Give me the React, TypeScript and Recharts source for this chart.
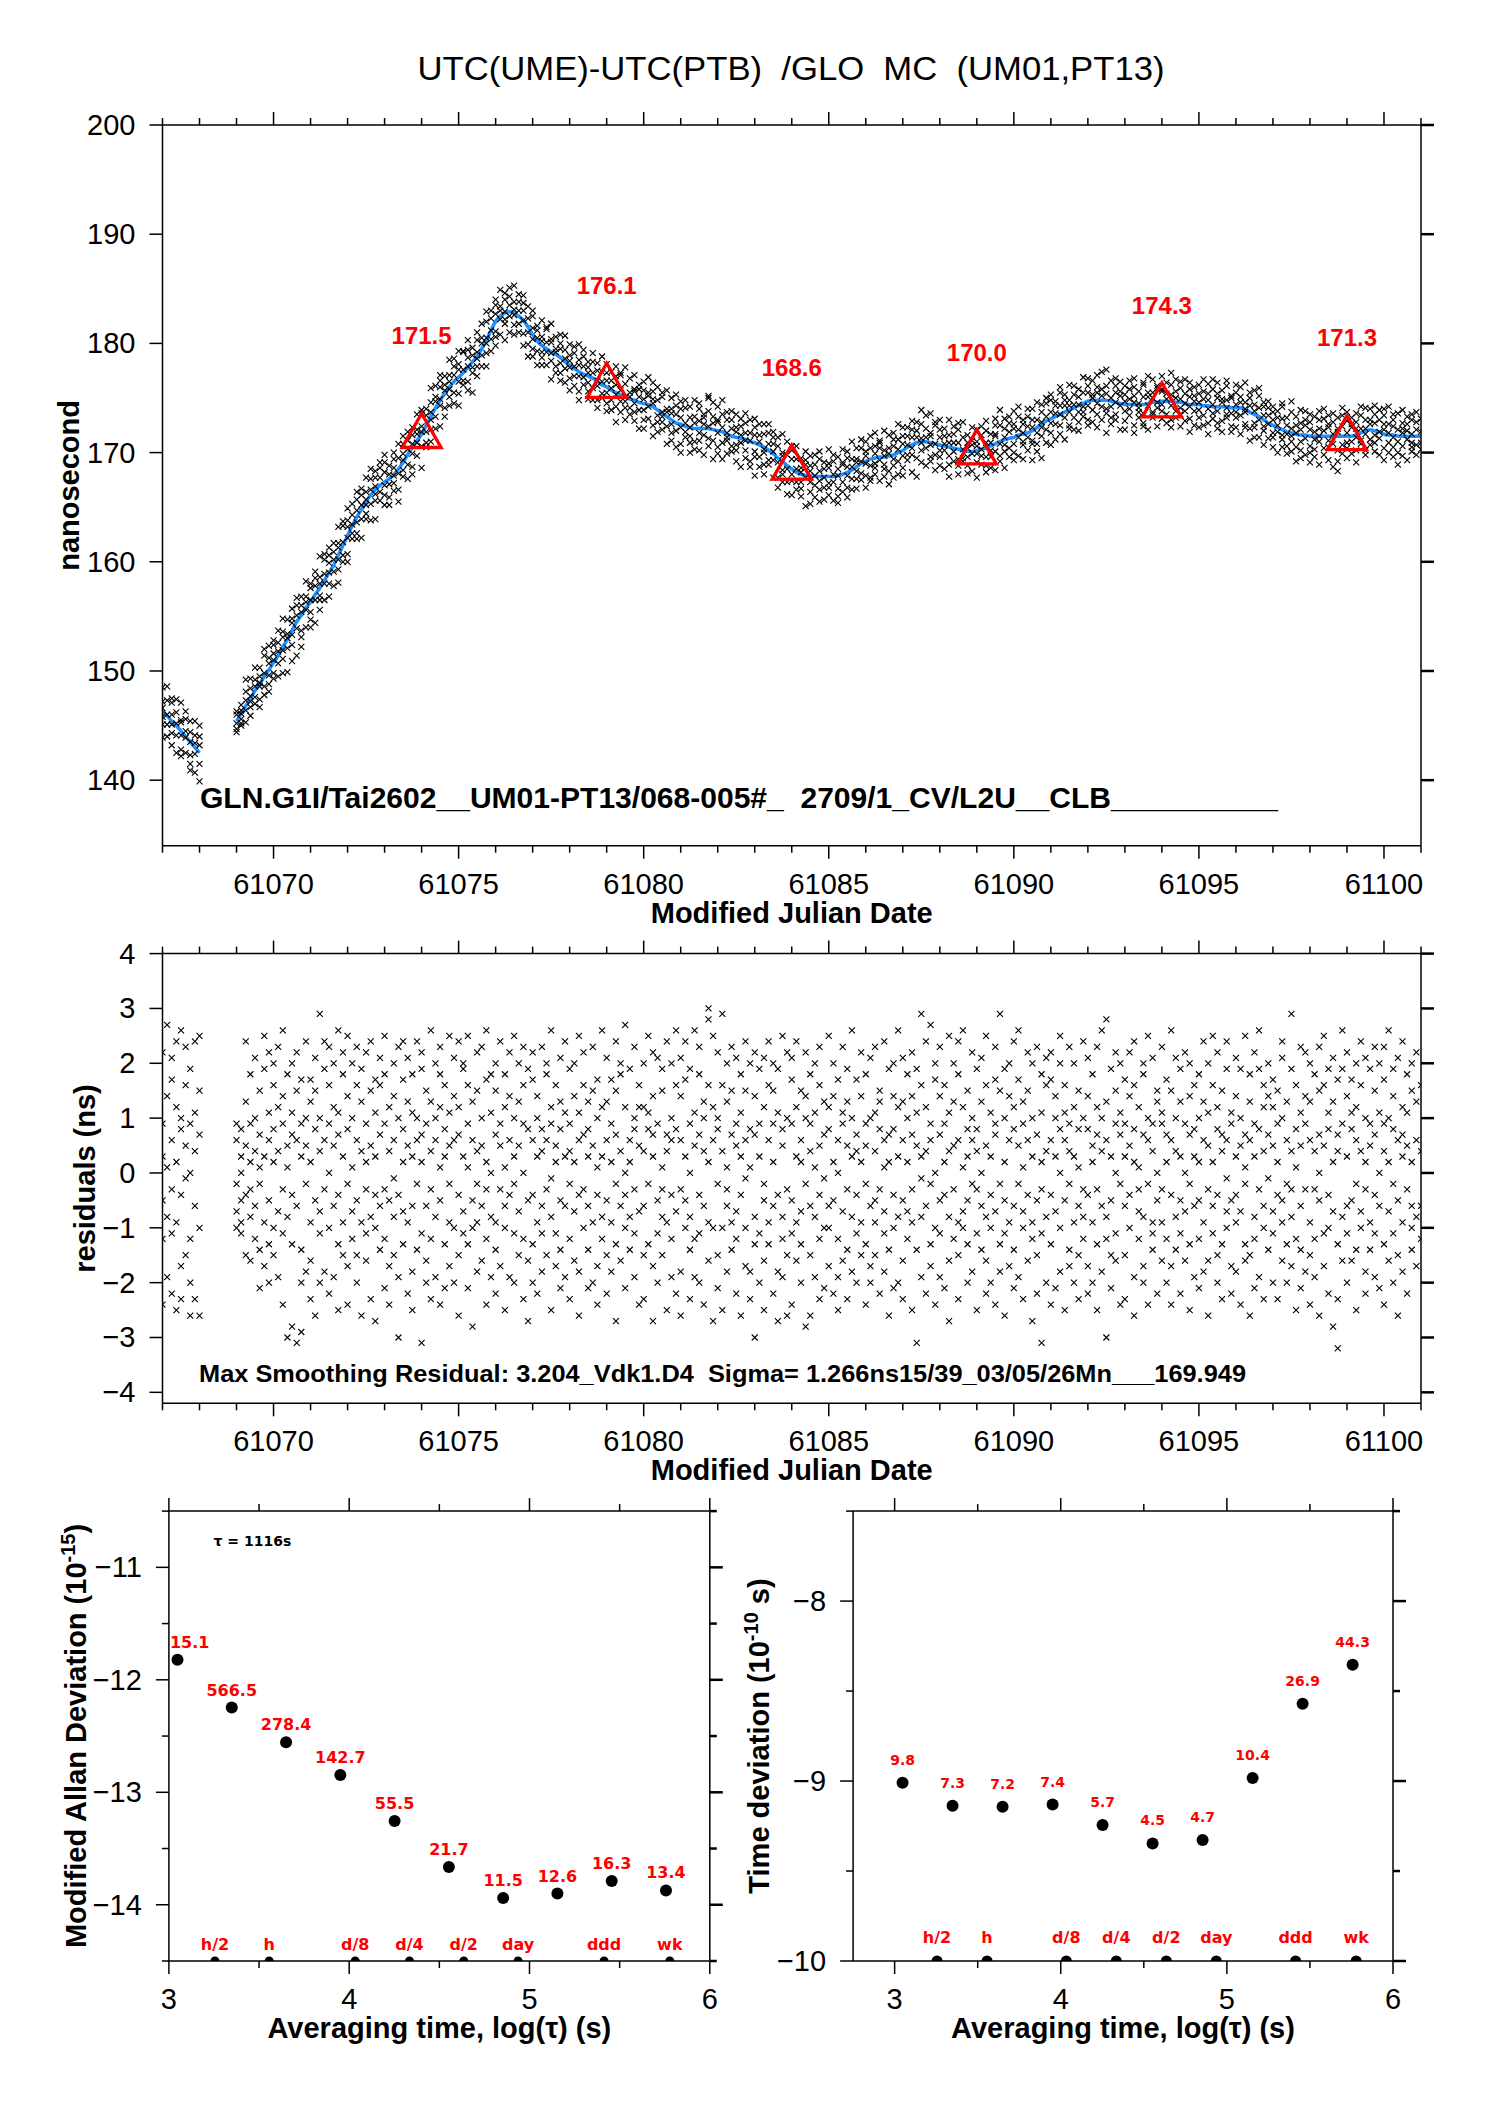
import React from 'react';
import { ComposedChart, Scatter, Line, XAxis, YAxis } from 'recharts';

const FONT = '"Liberation Sans", Arial, Helvetica, sans-serif';
const FONT_WIDE = '"DejaVu Sans", Verdana, sans-serif';
const RED = '#ff0000';
const BLUE = '#1e90ff';

// ---------------- time axis ----------------
const DAY_TICKS = [61067, 61068, 61069, 61070, 61071, 61072, 61073, 61074, 61075, 61076, 61077, 61078, 61079, 61080, 61081, 61082, 61083, 61084, 61085, 61086, 61087, 61088, 61089, 61090, 61091, 61092, 61093, 61094, 61095, 61096, 61097, 61098, 61099, 61100, 61101];
const DAY_MAJORS = [61070, 61075, 61080, 61085, 61090, 61095, 61100];
const NS_TICKS = [140, 150, 160, 170, 180, 190, 200];
const RES_TICKS = [-4, -3, -2, -1, 0, 1, 2, 3, 4];
const EPOCH_OFFSETS = [0, 0.125, 0.25, 0.375, 0.5, 0.625, 0.75, 0.875];

// ---------------- smoothed curve (ns) per day, at the epochs above ----------------
const s61067 = [146.3, 145.9, 145.4, 145.0, 144.5, 144.0, 143.5, 143.0];
const s61068 = [142.5];
const s61069 = [145.4, 146.1, 146.8, 147.5, 148.2, 148.8, 149.5, 150.1];
const s61070 = [150.8, 151.4, 152.2, 152.9, 153.7, 154.5, 155.1, 155.8];
const s61071 = [156.3, 157.0, 157.6, 158.3, 159.0, 159.7, 160.6, 161.5];
const s61072 = [162.4, 163.3, 164.1, 164.8, 165.5, 166.1, 166.6, 167.0];
const s61073 = [167.3, 167.6, 168.0, 168.5, 169.1, 169.8, 170.5, 171.1];
const s61074 = [171.7, 172.5, 173.3, 174.1, 174.8, 175.4, 176.0, 176.5];
const s61075 = [176.9, 177.3, 177.8, 178.3, 178.8, 179.5, 180.3, 181.2];
const s61076 = [182.0, 182.5, 182.8, 182.9, 182.8, 182.5, 182.1, 181.5];
const s61077 = [180.8, 180.2, 179.8, 179.5, 179.2, 179.0, 178.7, 178.3];
const s61078 = [178.0, 177.7, 177.4, 177.2, 177.0, 176.8, 176.5, 176.2];
const s61079 = [176.0, 175.7, 175.5, 175.3, 175.1, 174.9, 174.8, 174.6];
const s61080 = [174.5, 174.4, 174.2, 173.9, 173.6, 173.3, 173.0, 172.7];
const s61081 = [172.6, 172.4, 172.3, 172.2, 172.2, 172.2, 172.2, 172.1];
const s61082 = [172.0, 171.9, 171.7, 171.5, 171.4, 171.3, 171.2, 171.0];
const s61083 = [170.9, 170.7, 170.5, 170.2, 169.9, 169.5, 169.2, 168.8];
const s61084 = [168.5, 168.2, 168.0, 167.9, 167.9, 167.8, 167.8, 167.8];
const s61085 = [167.8, 167.8, 167.9, 168.0, 168.2, 168.4, 168.7, 169.0];
const s61086 = [169.2, 169.4, 169.5, 169.6, 169.6, 169.7, 169.8, 170.0];
const s61087 = [170.2, 170.5, 170.7, 170.9, 171.0, 171.0, 170.9, 170.8];
const s61088 = [170.7, 170.6, 170.5, 170.4, 170.3, 170.2, 170.1, 170.1];
const s61089 = [170.2, 170.3, 170.4, 170.6, 170.8, 171.0, 171.2, 171.3];
const s61090 = [171.4, 171.6, 171.7, 171.8, 172.0, 172.3, 172.6, 172.9];
const s61091 = [173.1, 173.3, 173.5, 173.7, 173.9, 174.1, 174.3, 174.5];
const s61092 = [174.7, 174.8, 174.8, 174.8, 174.8, 174.7, 174.6, 174.5];
const s61093 = [174.4, 174.4, 174.4, 174.4, 174.4, 174.5, 174.6, 174.6];
const s61094 = [174.7, 174.7, 174.7, 174.6, 174.6, 174.5, 174.4, 174.4];
const s61095 = [174.4, 174.3, 174.3, 174.2, 174.2, 174.2, 174.2, 174.1];
const s61096 = [174.1, 174.1, 173.9, 173.7, 173.5, 173.3, 173.0, 172.7];
const s61097 = [172.5, 172.3, 172.1, 171.9, 171.8, 171.7, 171.6, 171.6];
const s61098 = [171.5, 171.5, 171.5, 171.5, 171.5, 171.5, 171.5, 171.5];
const s61099 = [171.5, 171.5, 171.6, 171.8, 172.0, 172.1, 172.0, 171.9];
const s61100 = [171.7, 171.6, 171.6, 171.5, 171.5, 171.5, 171.5, 171.5];
const s61101 = [171.5];

// ---------------- smoothing residuals (ns) per epoch ----------------
const r61067 = [[0.3,-1.2,2.2,-2.4,0.9,-0.5],[2.7,-0.8,1.4,-1.9,0.1],[-2.2,0.6,2.1,-1.1,-0.3,1.7],[1.2,-2.5,0.2,2.4,-0.9],[-1.7,2.6,-0.4,0.8,-2.3,1.0],[0.5,-1.5,2.3,-0.1,1.6],[-2.6,0.9,-1.2,1.9,0.0,-2.0],[2.4,-0.6,1.1,-2.3,0.4]];
const r61068 = [[1.5,-2.6,0.7,-1.0,2.5]];
const r61069 = [[-1.0,0.6,-0.2,0.9,-0.7],[0.3,-1.1,0.8,-0.5,0.0,-0.9],[-0.4,1.3,-1.5,0.5,2.4],[0.9,-1.6,0.2,-0.8,1.8,-0.3],[-1.2,2.1,0.4,-0.6,1.0],[0.7,-2.1,1.5,-0.2,-1.4,0.1],[1.9,-0.9,0.3,-1.7,2.5],[-0.5,1.1,-1.3,0.6,-2.0,2.2]];
const r61070 = [[0.2,-1.0,1.6,-1.5,0.8,2.0],[-0.7,2.3,-1.9,0.4,1.2],[1.4,-0.3,-2.4,0.9,-1.1,2.6],[-3.0,0.5,1.8,-0.8,0.1],[-1.3,2.0,-2.8,0.7,1.1,-0.4],[0.6,-3.1,1.5,-0.6,2.2],[-2.0,0.3,1.7,-1.4,-2.9,0.9],[1.0,-0.2,2.4,-1.8,0.5]];
const r61071 = [[-0.9,1.7,-2.3,0.2,1.3,-1.6],[2.1,-0.5,0.8,-2.6,1.5],[-1.1,2.9,0.4,-0.7,1.0,-2.0],[0.6,-1.8,2.4,-0.3,1.9],[-2.2,0.9,1.6,-1.0,0.0,2.3],[1.2,-0.6,-1.9,2.0,0.5],[-0.4,2.6,-2.5,1.1,-1.3,0.7],[0.3,-1.5,1.8,-0.9,2.2]];
const r61072 = [[-1.7,0.8,2.5,-0.2,1.4,-2.4],[1.0,-1.2,0.1,2.0,-0.7],[-2.0,1.6,-0.5,0.6,2.3,-1.5],[0.4,-2.6,1.3,-0.9,1.9],[2.2,-0.3,-1.6,0.9,-1.1,0.2],[-0.8,1.5,-2.3,2.4,0.5],[1.7,-1.0,0.3,-2.7,1.1,-0.4],[-1.4,2.1,0.7,-0.6,1.6]];
const r61073 = [[0.9,-2.1,1.8,-0.3,2.5,-1.2],[-0.5,1.2,-1.7,0.4,-2.4],[2.0,-0.8,0.6,-1.5,1.4,-0.1],[-1.9,2.3,-0.4,1.0,-3.0],[0.2,-1.3,2.4,-0.7,1.7,0.8],[1.3,-2.2,0.5,-0.9,2.1],[-0.6,1.8,-1.8,0.3,-2.5,1.1],[2.4,-0.2,1.0,-1.4,0.6]];
const r61074 = [[-3.1,0.7,1.9,-1.1,0.2,2.2],[1.5,-0.6,-2.0,0.9,-1.6],[0.4,2.6,-1.2,1.3,-0.3,-2.3],[-0.8,1.0,2.0,-1.9,0.6],[1.8,-2.4,0.1,-0.5,2.3,1.2],[-1.3,0.8,-2.1,1.6,0.3],[2.5,-0.9,1.1,-1.7,-0.2,0.5],[-2.0,1.4,0.6,-1.0,2.1]];
const r61075 = [[0.7,-1.5,2.4,-0.4,1.2,-2.6],[-1.1,1.9,-0.7,0.3,2.0],[1.6,-2.1,0.9,-1.3,0.1,2.5],[-0.5,1.3,-2.8,0.6,-1.0],[2.2,-0.2,1.5,-1.8,0.4,-0.9],[-1.6,0.5,2.3,-0.6,1.0],[0.2,-2.4,1.7,-1.2,2.6,-0.3],[1.1,-0.8,0.0,-1.9,1.8]];
const r61076 = [[-0.9,2.0,-1.4,0.7,1.5,-2.2],[0.5,-0.3,2.4,-1.7,0.9],[-2.5,1.2,-0.6,1.8,0.1,-1.0],[1.4,-1.9,0.6,2.2,-0.4],[-0.2,2.5,-1.1,0.3,-2.0,1.0],[2.0,-0.7,1.3,-1.5,0.5],[-1.2,0.9,-2.3,1.6,0.0,2.3],[0.8,-1.6,1.9,-0.5,-2.7]];
const r61077 = [[1.7,-0.4,0.6,-1.3,2.2,-2.0],[-0.9,1.4,-2.2,0.3,1.0],[2.3,-1.1,0.8,-0.6,-1.8,0.4],[-0.3,1.8,-1.5,2.0,0.6],[0.9,-2.5,1.2,-0.8,2.6,-0.1],[-1.7,0.5,1.6,-1.1,0.2],[1.3,-0.5,-2.1,0.8,2.1,-1.4],[-0.6,2.4,0.3,-1.9,1.1]];
const r61078 = [[0.4,-1.2,1.9,-2.3,0.9,-0.2],[2.0,-0.7,0.2,-1.6,1.4],[-1.8,1.1,-0.4,2.5,-2.6,0.6],[0.7,-1.0,1.6,-0.3,2.2],[-2.1,0.3,1.3,-1.4,0.8,-0.6],[1.5,-2.0,0.5,2.3,-0.9],[-0.4,1.7,-1.7,0.1,-2.4,1.0],[2.6,-0.8,1.2,-1.2,0.3]];
const r61079 = [[-1.5,0.6,2.1,-0.5,1.3,-2.2],[0.9,-1.8,0.2,1.7,-0.9],[-0.2,2.4,-1.3,0.7,-2.7,1.5],[1.8,-0.6,-1.6,0.4,2.0],[-1.0,1.2,0.0,-2.1,2.7,-0.4],[0.6,-1.4,1.9,-0.8,0.2],[2.3,-0.3,-1.9,1.0,-1.1,0.8],[-0.7,1.6,-2.4,0.5,1.2]];
const r61080 = [[1.2,-2.3,0.4,-0.6,2.0,-1.5],[-1.3,0.8,2.5,-0.2,1.1],[0.3,-1.7,1.4,-2.7,0.7,2.2],[2.1,-0.5,-1.1,0.9,-2.0],[-0.8,1.9,0.1,-1.5,1.5,-0.3],[0.7,-2.5,2.4,-0.9,0.4],[-1.9,1.0,-0.4,2.0,-1.2,0.6],[1.6,-0.7,0.8,-2.2,2.6]];
const r61081 = [[-0.3,1.4,-1.8,0.6,-2.6,2.1],[2.4,-1.0,0.3,-0.5,1.7],[-1.4,0.9,-2.3,1.9,0.0,-0.8],[0.5,2.6,-1.2,1.1,-1.9],[1.8,-0.4,0.7,-2.0,2.3,-1.1],[-2.4,1.3,-0.6,0.4,1.0],[3.0,-0.9,1.6,-1.6,0.2,2.8],[-1.0,0.6,-2.7,1.2,2.5]];
const r61082 = [[0.8,-1.5,2.2,-0.2,1.0,-2.1],[-2.5,0.4,1.6,-1.0,2.9],[1.3,-0.6,0.1,-1.8,2.0,-0.3],[-0.9,2.3,-1.4,0.7,1.5],[2.1,-2.2,0.5,-0.7,-1.2,0.9],[-0.4,1.1,-2.6,1.8,0.3],[1.5,-0.1,-1.7,0.6,2.4,-1.0],[-1.8,2.0,0.8,-2.3,0.1]];
const r61083 = [[-3.0,0.7,1.4,-0.8,2.2,-1.3],[1.9,-1.1,0.3,-2.0,0.9],[-0.5,2.1,-1.6,1.2,-0.2,-2.5],[0.6,-0.9,2.4,-1.3,1.6],[-2.2,1.5,0.2,-0.6,2.0,0.9],[1.1,-1.8,-0.4,1.9,-2.7],[-0.8,0.5,2.5,-1.2,0.8,-1.9],[2.2,-0.3,1.0,-1.5,-2.6]];
const r61084 = [[0.9,-2.4,1.7,-0.5,-1.1,2.1],[-1.6,0.3,1.2,-0.9,2.4],[1.5,-0.7,-2.0,0.6,-1.3,0.2],[-2.8,1.0,2.2,-0.2,1.4],[0.4,-1.5,0.9,-2.6,1.8,-0.6],[2.0,-0.8,0.1,-1.9,1.1],[-1.2,1.6,-2.3,0.5,-0.4,2.3],[0.7,-1.0,1.3,-2.1,-0.1]];
const r61085 = [[-0.6,2.5,-1.7,0.8,1.2,-1.0],[1.4,-2.2,0.2,-0.5,2.0],[-1.9,0.6,1.7,-1.2,0.0,-2.5],[0.9,-0.7,2.3,-1.6,1.1],[-2.3,1.3,-0.3,0.5,-1.4,1.9],[0.3,-1.8,1.0,2.6,-0.8],[1.7,-0.4,-2.0,0.7,-1.1,0.4],[-0.9,2.2,-1.5,1.4,0.2]];
const r61086 = [[0.5,-1.3,1.8,-2.4,0.9,-0.2],[-1.7,2.1,-0.6,1.0,-2.0],[1.1,-0.9,0.4,-1.5,2.3,-0.5],[-0.3,1.5,-2.2,0.8,1.3],[2.4,-1.1,0.1,-0.7,-1.8,0.6],[-1.4,0.7,1.9,-2.6,0.2],[0.8,-0.4,2.0,-1.0,1.4,-2.1],[-2.0,1.2,-0.8,0.3,2.6]];
const r61087 = [[1.3,-1.6,0.6,-0.5,2.1,-2.3],[-0.7,1.8,-1.2,0.2,1.0],[2.2,-0.3,-2.5,1.4,-0.9,0.7],[-3.1,0.5,1.1,-1.4,1.9],[2.9,-0.8,0.3,-1.9,1.6,-0.1],[0.4,-2.2,2.4,-0.6,1.2],[-1.3,0.9,-0.2,2.7,-1.7,0.6],[1.7,-1.0,0.0,-2.4,2.0]];
const r61088 = [[-0.5,1.4,-1.9,0.7,2.3,-1.1],[0.9,-0.4,1.6,-2.1,0.2],[-1.6,2.5,-0.8,1.1,-2.7,0.4],[2.0,-1.2,0.5,-0.3,1.3],[-0.9,0.6,-2.3,1.8,-1.5,2.4],[1.2,-0.7,0.1,-1.0,2.6],[-2.0,1.5,-0.5,0.8,-1.3,0.3],[0.6,-1.8,2.2,-0.2,1.0]];
const r61089 = [[-1.1,0.4,1.9,-2.5,0.8,-0.3],[2.1,-0.6,-1.4,1.3,0.0],[-0.8,1.6,-2.2,0.5,2.5,-1.6],[0.3,-1.0,1.1,-0.4,-2.0],[1.7,-2.4,0.7,2.3,-0.7,0.9],[2.9,-0.2,-1.3,1.5,-1.8],[-0.5,1.0,-2.6,0.2,1.9,-1.1],[1.4,-0.9,0.6,-1.7,2.0]];
const r61090 = [[-2.1,0.8,2.4,-0.6,1.2,-1.4],[0.5,-1.9,1.7,-0.2,2.6],[-0.7,1.3,-2.3,0.9,-1.0,0.1],[2.2,-0.4,0.6,-1.6,1.5],[-1.2,2.0,-0.9,0.3,-2.7,1.0],[0.7,-1.5,2.3,-0.5,-2.2],[-3.1,1.1,0.2,-1.1,1.8,-0.3],[1.6,-0.8,-2.0,2.1,0.4]];
const r61091 = [[-0.4,1.7,-1.3,0.6,2.2,-2.4],[1.0,-2.1,0.3,-0.7,1.4],[-1.8,0.8,2.0,-1.0,0.0,2.5],[0.6,-0.5,-2.5,1.6,1.1],[2.3,-1.4,0.4,-0.2,-1.7,0.9],[-0.9,1.2,-2.0,2.0,0.3],[1.5,-0.6,0.8,-1.5,-2.3,0.1],[-1.2,2.4,-0.3,1.0,-0.8]];
const r61092 = [[0.8,-1.7,1.4,-0.4,2.1,-2.2],[-2.0,0.5,-0.9,1.8,0.2],[1.2,-0.3,2.3,-1.3,0.7,-2.5],[-0.6,1.0,-1.8,0.4,2.6],[2.8,-3.0,0.6,-0.8,1.3,-1.2],[-1.5,0.3,1.9,-0.5,-2.1],[0.9,-1.1,0.0,2.2,-1.6,1.5],[-0.2,2.0,-2.4,0.7,1.1]];
const r61093 = [[1.7,-0.6,-1.5,0.9,-2.3,0.3],[-1.0,2.2,0.5,-0.4,1.4],[0.2,-1.9,1.6,-2.6,0.8,2.4],[-0.7,1.2,-1.2,0.1,-0.3],[2.0,-0.8,0.7,-1.7,1.8,-2.0],[-2.4,0.6,1.0,-0.2,2.5],[0.4,-1.4,2.1,-0.9,-1.1,0.9],[1.3,-0.5,-2.2,1.5,0.0]];
const r61094 = [[-1.6,0.9,2.3,-0.3,1.1,-0.9],[0.7,-2.0,0.2,1.7,-1.2],[-0.4,1.5,-1.7,0.6,2.6,-2.4],[2.1,-0.8,0.4,-1.4,1.0],[-1.1,0.3,1.9,-2.2,-0.5,1.3],[0.9,-1.6,0.0,2.2,-0.7],[-2.5,1.4,-0.2,0.7,-1.3,2.0],[1.6,-0.6,0.8,-1.9,0.3]];
const r61095 = [[0.2,-1.2,1.8,-0.5,-2.1,1.0],[-1.8,2.4,0.6,-0.9,1.3],[1.1,-0.3,-1.6,2.0,-2.6,0.5],[-0.6,1.6,0.2,-1.1,2.5],[2.2,-2.0,0.8,-0.4,1.2,-1.5],[-1.3,0.4,1.5,-2.3,0.7],[0.6,-0.7,2.4,-1.0,-0.1,1.9],[-2.2,1.1,-0.5,0.9,-1.7]];
const r61096 = [[1.4,-0.9,0.3,-1.8,2.1,-0.4],[-0.7,1.9,-2.4,0.5,1.0],[2.5,-1.3,0.7,-0.2,-1.6,0.1],[-1.5,0.6,1.3,-2.6,1.8],[0.3,-0.8,2.2,-1.2,0.9,-2.1],[1.9,-1.9,-0.3,0.8,2.6],[-1.0,0.4,1.6,-0.6,-2.3,1.2],[0.7,-1.4,2.0,-0.1,1.4]];
const r61097 = [[-2.0,1.2,-0.7,0.5,1.7,-1.1],[0.9,-2.3,1.5,-0.4,0.2],[-0.5,2.1,-1.6,1.0,-0.9,2.4],[1.3,-0.2,-2.0,0.6,-1.3],[2.9,-0.8,0.4,-1.7,1.9,-0.3],[-1.2,1.6,0.1,-2.5,0.8],[0.5,-0.6,2.3,-1.4,1.1,-2.1],[-1.8,0.9,1.4,-0.3,2.2]];
const r61098 = [[0.6,-1.5,2.0,-0.9,-2.4,1.3],[-0.3,1.8,-1.2,0.4,-1.9],[1.5,-2.6,0.7,2.3,-0.5,0.0],[-1.1,0.5,1.6,-1.7,2.5],[0.8,-0.4,-2.2,1.1,-1.0,1.9],[-2.8,1.3,0.2,-0.7,2.1],[-3.2,0.7,1.7,-1.3,0.4,-2.3],[1.9,-0.8,-1.6,0.9,2.6]];
const r61099 = [[-0.6,1.4,-2.0,0.3,2.2,-1.1],[1.1,-0.5,0.8,-1.6,1.7],[-1.4,2.0,-0.2,0.6,-2.5,1.2],[0.4,-1.0,2.4,-0.7,1.6],[2.1,-1.8,0.2,-0.3,1.0,-2.2],[-0.9,0.9,-1.4,1.9,0.5],[1.5,-0.4,2.3,-1.1,-1.9,0.7],[-2.1,1.1,0.0,-0.6,2.0]];
const r61100 = [[0.9,-1.3,1.7,-2.4,0.4,2.3],[-0.7,2.6,-1.6,1.0,0.2],[1.4,-0.2,-2.0,0.8,-1.1,1.9],[-1.5,0.6,2.1,-0.5,-2.6],[0.3,-0.9,1.2,-1.8,2.4,0.7],[1.8,-2.2,0.5,-0.3,1.1],[-1.0,1.5,-0.6,2.0,-1.4,0.2],[0.6,-1.7,1.3,-0.8,2.2]];
const r61101 = [[0.4,-1.2,1.6,-0.6]];

// ---------------- daily means (red triangles) ----------------
const MEAN_MJD = [61074, 61079, 61084, 61089, 61094, 61099];
const MEAN_NS = [171.5, 176.1, 168.6, 170.0, 174.3, 171.3];

// ---------------- stability ----------------
const LOG_TAU = [3.0477, 3.3487, 3.6498, 3.9508, 4.2518, 4.5529, 4.8539, 5.1549, 5.456, 5.757];
const MDEV_LOG = [-11.821, -12.247, -12.555, -12.846, -13.256, -13.664, -13.939, -13.9, -13.788, -13.873];
const MDEV_LABELS = ['15.1', '566.5', '278.4', '142.7', '55.5', '21.7', '11.5', '12.6', '16.3', '13.4'];
const TDEV_LOG = [-9.009, -9.137, -9.143, -9.131, -9.244, -9.347, -9.328, -8.983, -8.57, -8.354];
const TDEV_LABELS = ['9.8', '7.3', '7.2', '7.4', '5.7', '4.5', '4.7', '10.4', '26.9', '44.3'];
const INTERVAL_LOG = [3.2553, 3.5563, 4.0334, 4.3345, 4.6355, 4.9365, 5.4136, 5.7782];
const INTERVAL_LABELS = ['h/2', 'h', 'd/8', 'd/4', 'd/2', 'day', 'ddd', 'wk'];
const LOG_TICKS = [3, 3.5, 4, 4.5, 5, 5.5, 6];
const LOG_MAJORS = [3, 4, 5, 6];
const MDEV_TICKS = [-14.5, -14, -13.5, -13, -12.5, -12, -11.5, -11, -10.5];
const MDEV_MAJORS = [-14, -13, -12, -11];
const TDEV_TICKS = [-10, -9.5, -9, -8.5, -8, -7.5];
const TDEV_MAJORS = [-10, -9, -8];

// ---------------- tables built from the arrays ----------------
const DAY_TABLE: [number, number[], number[][]][] = [
  [61067, s61067, r61067], [61068, s61068, r61068], [61069, s61069, r61069], [61070, s61070, r61070],
  [61071, s61071, r61071], [61072, s61072, r61072], [61073, s61073, r61073], [61074, s61074, r61074],
  [61075, s61075, r61075], [61076, s61076, r61076], [61077, s61077, r61077], [61078, s61078, r61078],
  [61079, s61079, r61079], [61080, s61080, r61080], [61081, s61081, r61081], [61082, s61082, r61082],
  [61083, s61083, r61083], [61084, s61084, r61084], [61085, s61085, r61085], [61086, s61086, r61086],
  [61087, s61087, r61087], [61088, s61088, r61088], [61089, s61089, r61089], [61090, s61090, r61090],
  [61091, s61091, r61091], [61092, s61092, r61092], [61093, s61093, r61093], [61094, s61094, r61094],
  [61095, s61095, r61095], [61096, s61096, r61096], [61097, s61097, r61097], [61098, s61098, r61098],
  [61099, s61099, r61099], [61100, s61100, r61100], [61101, s61101, r61101],
];

type P = { x: number; y: number; label?: string };
const smoothSegments: P[][] = [];
const topPoints: P[] = [];
const residPoints: P[] = [];
(() => {
  let cur: P[] = [];
  let lastX = -Infinity;
  for (const [day, s, r] of DAY_TABLE) {
    s.forEach((val, i) => {
      const x = day + EPOCH_OFFSETS[i];
      if (x - lastX > 0.5 && cur.length) {
        smoothSegments.push(cur);
        cur = [];
      }
      cur.push({ x, y: val });
      lastX = x;
      (r[i] || []).forEach((res) => {
        topPoints.push({ x, y: val + res });
        residPoints.push({ x, y: res });
      });
    });
  }
  if (cur.length) smoothSegments.push(cur);
})();

const meanPoints: P[] = MEAN_MJD.map((x, i) => ({ x, y: MEAN_NS[i], label: MEAN_NS[i].toFixed(1) }));
const mdevPoints: P[] = LOG_TAU.map((x, i) => ({ x, y: MDEV_LOG[i], label: MDEV_LABELS[i] }));
const tdevPoints: P[] = LOG_TAU.map((x, i) => ({ x, y: TDEV_LOG[i], label: TDEV_LABELS[i] }));
const MDEV_DOMAIN: [number, number] = [-14.5, -10.5];
const TDEV_DOMAIN: [number, number] = [-10, -7.5];
const mdevIntervals: P[] = INTERVAL_LOG.map((x, i) => ({ x, y: MDEV_DOMAIN[0], label: INTERVAL_LABELS[i] }));
const tdevIntervals: P[] = INTERVAL_LOG.map((x, i) => ({ x, y: TDEV_DOMAIN[0], label: INTERVAL_LABELS[i] }));

// ---------------- rendering helpers ----------------
const minusFmt = (v: number) => (v < 0 ? '\u2212' + String(Math.abs(v)) : String(v));

type Side = 'bottom' | 'left' | 'right';
function tickRenderer(side: Side, majors: number[], labels: boolean, fmt: (v: number) => string = String, topY?: number) {
  return (props: any) => {
    const x = Number(props.x);
    const y = Number(props.y);
    const v = Number(props.payload?.value);
    const isMajor = majors.some((mm) => Math.abs(mm - v) < 1e-6);
    const len = isMajor ? 13 : 7;
    let x2 = x;
    let y2 = y;
    if (side === 'bottom') y2 = y + len;
    if (side === 'left') x2 = x - len;
    if (side === 'right') x2 = x + len;
    const sw = side === 'right' ? 2.5 : 1.5;
    let label: React.ReactNode = null;
    if (labels && isMajor) {
      if (side === 'bottom')
        label = (
          <text x={x} y={y + 48} textAnchor="middle" fontFamily={FONT} fontSize={29} fill="#000">
            {fmt(v)}
          </text>
        );
      if (side === 'left')
        label = (
          <text x={x - 27} y={y + 10} textAnchor="end" fontFamily={FONT} fontSize={29} fill="#000">
            {fmt(v)}
          </text>
        );
    }
    return (
      <g>
        <line x1={x} y1={y} x2={x2} y2={y2} stroke="#000" strokeWidth={sw} />
        {side === 'bottom' && topY != null ? (
          <line x1={x} y1={topY} x2={x} y2={topY - len} stroke="#000" strokeWidth={1.5} />
        ) : null}
        {label}
      </g>
    );
  };
}

const crossShape = (p: any) => {
  const { cx, cy } = p;
  if (cx == null || cy == null) return <g />;
  const d = `M${cx - 3},${cy - 3}L${cx + 3},${cy + 3}M${cx - 3},${cy + 3}L${cx + 3},${cy - 3}`;
  return <path d={d} stroke="#000" strokeWidth={1.1} fill="none" />;
};

const triangleShape = (p: any) => {
  const { cx, cy, payload } = p;
  const d = `M${cx},${cy - 22.7}L${cx + 19.5},${cy + 11.3}L${cx - 19.5},${cy + 11.3}Z`;
  return (
    <g>
      <path d={d} fill="none" stroke={RED} strokeWidth={3.3} strokeLinejoin="miter" />
      <text x={cx} y={cy - 92} textAnchor="middle" fontFamily={FONT} fontWeight={700} fontSize={24} fill={RED}>
        {payload?.label}
      </text>
    </g>
  );
};

const wideWidth = (s: string, size: number) =>
  s.split('').reduce((a, c) => a + (c === '.' ? 0.38 : /[0-9]/.test(c) ? 0.696 : 0.7), 0) * size;

function dotShape(labelDy: number, fontSize: number, plotLeft: number) {
  return (p: any) => {
    const { cx, cy, payload } = p;
    const txt: string = payload?.label ?? '';
    const w = wideWidth(txt, fontSize);
    const lx = Math.max(cx, plotLeft + 1 + w / 2);
    return (
      <g>
        <circle cx={cx} cy={cy} r={6} fill="#000" />
        <text x={lx} y={cy - labelDy} textAnchor="middle" fontFamily={FONT_WIDE} fontWeight={700} fontSize={fontSize} fill={RED}>
          {txt}
        </text>
      </g>
    );
  };
}

function intervalShape(r: number, labelDy: number) {
  return (p: any) => {
    const { cx, cy, payload } = p;
    return (
      <g>
        <circle cx={cx} cy={cy} r={r} fill="#000" />
        <text x={cx} y={cy - labelDy} textAnchor="middle" fontFamily={FONT_WIDE} fontWeight={700} fontSize={16} fill={RED}>
          {payload?.label}
        </text>
      </g>
    );
  };
}

const axisLine = { stroke: '#000', strokeWidth: 1.5 };

const m = (top: number, right: number, bottom: number, left: number) => ({
  top: top - 1,
  right: right - 1,
  bottom: bottom - 1,
  left: left - 1,
});

// ---------------- charts ----------------
function TopChart() {
  const W = 1488;
  const H = 940;
  const TOP = 125;
  const margin = m(TOP, 67, H - 845.7, 162.5);
  return (
    <ComposedChart width={W} height={H} margin={margin}>
      <XAxis xAxisId={0} type="number" dataKey="x" domain={[61067, 61101]} allowDataOverflow ticks={DAY_TICKS} interval={0}
        height={1} tickSize={0} tickMargin={0} tickLine={false} axisLine={axisLine} tick={tickRenderer('bottom', DAY_MAJORS, true, String, TOP)} />
      <XAxis xAxisId="top" orientation="top" type="number" domain={[61067, 61101]} allowDataOverflow ticks={DAY_TICKS} interval={0}
        height={1} tickSize={0} tickMargin={0} tickLine={false} axisLine={axisLine} tick={false} />
      <YAxis yAxisId={0} type="number" dataKey="y" domain={[134, 200]} allowDataOverflow ticks={NS_TICKS} interval={0}
        width={1} tickSize={0} tickMargin={0} tickLine={false} axisLine={axisLine} tick={tickRenderer('left', NS_TICKS, true)} />
      <YAxis yAxisId="right" orientation="right" type="number" domain={[134, 200]} allowDataOverflow ticks={NS_TICKS} interval={0}
        width={1} tickSize={0} tickMargin={0} tickLine={false} axisLine={axisLine} tick={tickRenderer('right', NS_TICKS, false)} />
      <Scatter data={topPoints} shape={crossShape} isAnimationActive={false} />
      {smoothSegments.map((seg, i) => (
        <Line key={i} data={seg} dataKey="y" type="monotone" stroke={BLUE} strokeWidth={3.5} dot={false} activeDot={false} isAnimationActive={false} />
      ))}
      <Scatter data={meanPoints} shape={triangleShape} isAnimationActive={false} />
    </ComposedChart>
  );
}

function ResidualChart() {
  const W = 1488;
  const H = 600;
  const ORIGIN = 900;
  const TOP = 953.6 - ORIGIN;
  const margin = m(TOP, 67, H - (1403.3 - ORIGIN), 162.5);
  return (
    <ComposedChart width={W} height={H} margin={margin}>
      <XAxis xAxisId={0} type="number" dataKey="x" domain={[61067, 61101]} allowDataOverflow ticks={DAY_TICKS} interval={0}
        height={1} tickSize={0} tickMargin={0} tickLine={false} axisLine={axisLine} tick={tickRenderer('bottom', DAY_MAJORS, true, String, TOP)} />
      <XAxis xAxisId="top" orientation="top" type="number" domain={[61067, 61101]} allowDataOverflow ticks={DAY_TICKS} interval={0}
        height={1} tickSize={0} tickMargin={0} tickLine={false} axisLine={axisLine} tick={false} />
      <YAxis yAxisId={0} type="number" dataKey="y" domain={[-4.2, 4]} allowDataOverflow ticks={RES_TICKS} interval={0}
        width={1} tickSize={0} tickMargin={0} tickLine={false} axisLine={axisLine} tick={tickRenderer('left', RES_TICKS, true, minusFmt)} />
      <YAxis yAxisId="right" orientation="right" type="number" domain={[-4.2, 4]} allowDataOverflow ticks={RES_TICKS} interval={0}
        width={1} tickSize={0} tickMargin={0} tickLine={false} axisLine={axisLine} tick={tickRenderer('right', RES_TICKS, false)} />
      <Scatter data={residPoints} shape={crossShape} isAnimationActive={false} />
    </ComposedChart>
  );
}

function StabilityChart(props: {
  xDomain: [number, number];
  yDomain: [number, number];
  yTicks: number[];
  yMajors: number[];
  points: P[];
  intervals: P[];
  plot: { top: number; right: number; bottom: number; left: number };
  labelDy: number;
  labelSize: number;
  dotR: number;
  intervalDy: number;
}) {
  const { xDomain, yDomain, yTicks, yMajors, points, intervals, plot } = props;
  const margin = m(plot.top, plot.right, plot.bottom, plot.left);
  return (
    <ComposedChart width={744} height={615} margin={margin}>
      <XAxis xAxisId={0} type="number" dataKey="x" domain={xDomain} allowDataOverflow ticks={LOG_TICKS} interval={0}
        height={1} tickSize={0} tickMargin={0} tickLine={false} axisLine={axisLine} tick={tickRenderer('bottom', LOG_MAJORS, true, String, plot.top)} />
      <XAxis xAxisId="top" orientation="top" type="number" domain={xDomain} allowDataOverflow ticks={LOG_TICKS} interval={0}
        height={1} tickSize={0} tickMargin={0} tickLine={false} axisLine={axisLine} tick={false} />
      <YAxis yAxisId={0} type="number" dataKey="y" domain={yDomain} allowDataOverflow ticks={yTicks} interval={0}
        width={1} tickSize={0} tickMargin={0} tickLine={false} axisLine={axisLine} tick={tickRenderer('left', yMajors, true, minusFmt)} />
      <YAxis yAxisId="right" orientation="right" type="number" domain={yDomain} allowDataOverflow ticks={yTicks} interval={0}
        width={1} tickSize={0} tickMargin={0} tickLine={false} axisLine={axisLine} tick={tickRenderer('right', yMajors, false)} />
      <Scatter data={intervals} shape={intervalShape(props.dotR, props.intervalDy)} isAnimationActive={false} />
      <Scatter data={points} shape={dotShape(props.labelDy, props.labelSize, plot.left)} isAnimationActive={false} />
    </ComposedChart>
  );
}

function Texts() {
  const bold = { fontFamily: FONT, fontWeight: 700 as const, fill: '#000' };
  return (
    <svg width={1488} height={2105} style={{ position: 'absolute', left: 0, top: 0, pointerEvents: 'none' }}>
      <text x={417.5} y={80} fontFamily={FONT} fontSize={34} fill="#000" textLength={747} lengthAdjust="spacingAndGlyphs" style={{ whiteSpace: 'pre' }}>
        {'UTC(UME)-UTC(PTB)  /GLO  MC  (UM01,PT13)'}
      </text>
      <text x={200} y={808} {...bold} fontSize={29} textLength={1078} lengthAdjust="spacingAndGlyphs" style={{ whiteSpace: 'pre' }}>
        {'GLN.G1I/Tai2602__UM01-PT13/068-005#_  2709/1_CV/L2U__CLB__________'}
      </text>
      <text x={199} y={1382} {...bold} fontSize={24} textLength={1047} lengthAdjust="spacingAndGlyphs" style={{ whiteSpace: 'pre' }}>
        {'Max Smoothing Residual: 3.204_Vdk1.D4  Sigma= 1.266ns15/39_03/05/26Mn___169.949'}
      </text>
      <text x={791.75} y={923} textAnchor="middle" {...bold} fontSize={29}>Modified Julian Date</text>
      <text x={791.75} y={1480} textAnchor="middle" {...bold} fontSize={29}>Modified Julian Date</text>
      <text transform="translate(79,485.4) rotate(-90)" textAnchor="middle" {...bold} fontSize={29}>nanosecond</text>
      <text transform="translate(95,1178.5) rotate(-90)" textAnchor="middle" {...bold} fontSize={29}>residuals (ns)</text>
      <text transform="translate(86,1736) rotate(-90)" textAnchor="middle" {...bold} fontSize={29}>
        Modified Allan Deviation (10<tspan dy={-11} fontSize={20}>-15</tspan><tspan dy={11}>)</tspan>
      </text>
      <text transform="translate(769,1736) rotate(-90)" textAnchor="middle" {...bold} fontSize={29}>
        Time deviation (10<tspan dy={-11} fontSize={20}>-10</tspan><tspan dy={11}> s)</tspan>
      </text>
      <text x={439.4} y={2038} textAnchor="middle" {...bold} fontSize={29}>Averaging time, log(τ) (s)</text>
      <text x={1123} y={2038} textAnchor="middle" {...bold} fontSize={29}>Averaging time, log(τ) (s)</text>
      <text x={213.5} y={1546} fontFamily={FONT_WIDE} fontWeight={700} fontSize={14} fill="#000">τ = 1116s</text>
    </svg>
  );
}

export default function App() {
  return (
    <div style={{ position: 'absolute', left: 0, top: 0, width: 1488, height: 2105, background: '#fff', overflow: 'hidden' }}>
      <div style={{ position: 'absolute', left: 0, top: 0 }}>
        <TopChart />
      </div>
      <div style={{ position: 'absolute', left: 0, top: 900 }}>
        <ResidualChart />
      </div>
      <div style={{ position: 'absolute', left: 0, top: 1490 }}>
        <StabilityChart
          xDomain={[3, 6]}
          yDomain={MDEV_DOMAIN}
          yTicks={MDEV_TICKS}
          yMajors={MDEV_MAJORS}
          points={mdevPoints}
          intervals={mdevIntervals}
          plot={{ top: 21.1, right: 744 - 709.8, bottom: 144, left: 168.9 }}
          labelDy={12}
          labelSize={16}
          dotR={4.5}
          intervalDy={11}
        />
      </div>
      <div style={{ position: 'absolute', left: 744, top: 1490 }}>
        <StabilityChart
          xDomain={[2.75, 6]}
          yDomain={TDEV_DOMAIN}
          yTicks={TDEV_TICKS}
          yMajors={TDEV_MAJORS}
          points={tdevPoints}
          intervals={tdevIntervals}
          plot={{ top: 21.1, right: 95, bottom: 144, left: 109.1 }}
          labelDy={18}
          labelSize={14}
          dotR={5.5}
          intervalDy={18}
        />
      </div>
      <Texts />
    </div>
  );
}
